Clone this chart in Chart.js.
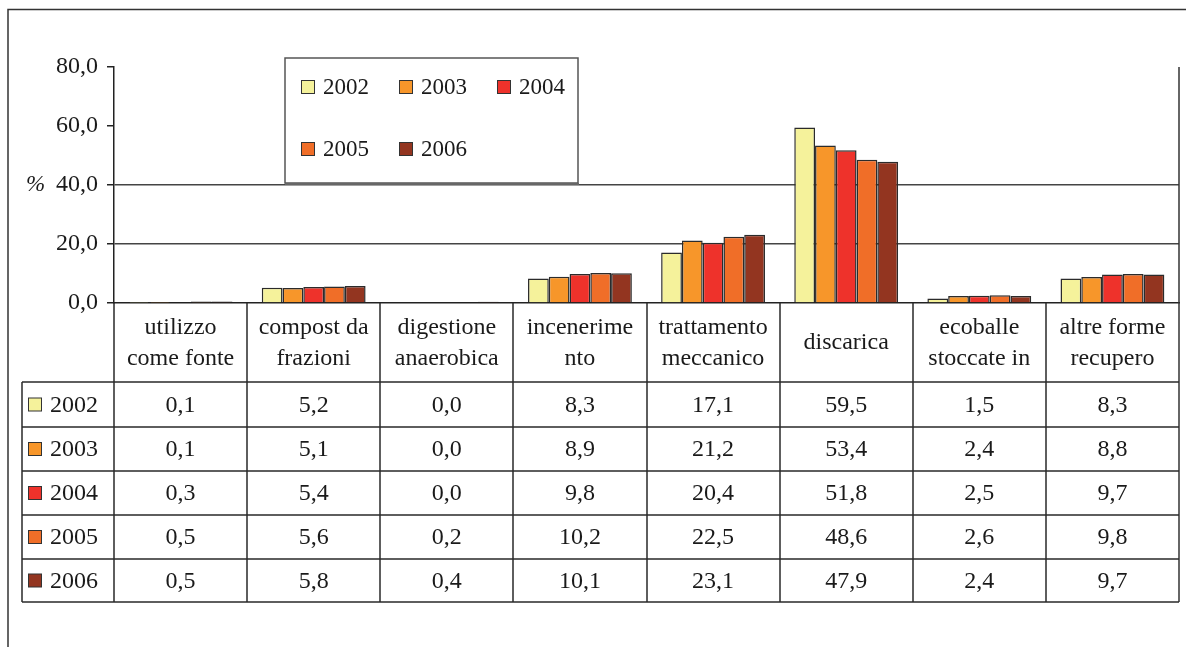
<!DOCTYPE html>
<html lang="it">
<head>
<meta charset="UTF-8">
<title>Gestione rifiuti</title>
<script src="https://cdn.jsdelivr.net/npm/chart.js"></script>
<style>
  html, body { margin: 0; padding: 0; background: #fff; }
  #wrap { width: 1186px; height: 647px; position: relative; }
</style>
</head>
<body>
<div id="wrap"><canvas id="grafico"></canvas></div>
<script>
  // dati
  const categorie = [
    ['utilizzo', 'come fonte'],
    ['compost da', 'frazioni'],
    ['digestione', 'anaerobica'],
    ['incenerime', 'nto'],
    ['trattamento', 'meccanico'],
    ['discarica'],
    ['ecoballe', 'stoccate in'],
    ['altre forme', 'recupero']
  ];
  const anni = ['2002', '2003', '2004', '2005', '2006'];
  const val2002 = [0.1, 5.2, 0.0, 8.3, 17.1, 59.5, 1.5, 8.3];
  const val2003 = [0.1, 5.1, 0.0, 8.9, 21.2, 53.4, 2.4, 8.8];
  const val2004 = [0.3, 5.4, 0.0, 9.8, 20.4, 51.8, 2.5, 9.7];
  const val2005 = [0.5, 5.6, 0.2, 10.2, 22.5, 48.6, 2.6, 9.8];
  const val2006 = [0.5, 5.8, 0.4, 10.1, 23.1, 47.9, 2.4, 9.7];
  const yTicks = [0, 20, 40, 60, 80];
  const colori = ['#F5F29B', '#F7962A', '#EE322B', '#F06E28', '#933520'];

  const serie = [val2002, val2003, val2004, val2005, val2006];
  const FONT = '"Liberation Serif", "DejaVu Serif", serif';
  const TXT = '#1a1a1a';

  function virgola(v) {
    return v.toFixed(1).replace('.', ',');
  }

  // tabella, legenda, cornice
  const extra = {
    id: 'extra',
    afterDraw(chart) {
      const ctx = chart.ctx;
      const area = chart.chartArea;
      const xs = chart.scales.x;
      const n = categorie.length;
      const cw = (area.right - area.left) / n;
      const righe = [303, 382, 427, 471, 515, 559, 602];
      const tabLeft = 22;

      ctx.save();
      // cornice esterna
      ctx.strokeStyle = '#333';
      ctx.lineWidth = 1.5;
      ctx.beginPath();
      ctx.moveTo(8, 647);
      ctx.lineTo(8, 9.5);
      ctx.lineTo(1186, 9.5);
      ctx.stroke();

      // bordo destro area grafico
      ctx.beginPath();
      ctx.moveTo(area.right, area.top);
      ctx.lineTo(area.right, righe[righe.length - 1]);
      ctx.stroke();

      // linee tabella
      ctx.strokeStyle = '#2a2a2a';
      ctx.beginPath();
      for (let r = 1; r < righe.length; r++) {
        ctx.moveTo(tabLeft, righe[r]);
        ctx.lineTo(area.right, righe[r]);
      }
      ctx.moveTo(tabLeft, righe[1]);
      ctx.lineTo(tabLeft, righe[righe.length - 1]);
      for (let i = 0; i < n; i++) {
        const x = Math.round(xs.getPixelForValue(i) - cw / 2);
        ctx.moveTo(x, righe[0]);
        ctx.lineTo(x, righe[righe.length - 1]);
      }
      ctx.stroke();

      ctx.fillStyle = TXT;
      ctx.textAlign = 'center';
      ctx.textBaseline = 'middle';
      ctx.font = '24px ' + FONT;

      // intestazioni categorie
      const hMid = (righe[0] + righe[1]) / 2;
      categorie.forEach((lab, i) => {
        const cx = xs.getPixelForValue(i);
        if (lab.length === 1) {
          ctx.fillText(lab[0], cx, hMid);
        } else {
          ctx.fillText(lab[0], cx, hMid - 15);
          ctx.fillText(lab[1], cx, hMid + 16);
        }
      });

      // righe dei valori
      serie.forEach((vals, s) => {
        const cy = (righe[s + 1] + righe[s + 2]) / 2;
        ctx.fillStyle = colori[s];
        ctx.fillRect(28.5, cy - 6.5, 13, 13);
        ctx.strokeStyle = '#333';
        ctx.lineWidth = 1;
        ctx.strokeRect(28.5, cy - 6.5, 13, 13);
        ctx.fillStyle = TXT;
        ctx.textAlign = 'left';
        ctx.fillText(anni[s], 50, cy + 1);
        ctx.textAlign = 'center';
        vals.forEach((v, i) => {
          ctx.fillText(virgola(v), xs.getPixelForValue(i), cy + 1);
        });
      });

      // simbolo %
      ctx.textAlign = 'left';
      ctx.font = 'italic 23px ' + FONT;
      ctx.fillText('%', 26, chart.scales.y.getPixelForValue(40));

      // legenda
      ctx.fillStyle = '#fff';
      ctx.fillRect(285, 58, 293, 125);
      ctx.strokeStyle = '#555';
      ctx.lineWidth = 1.5;
      ctx.strokeRect(285, 58, 293, 125);
      ctx.strokeStyle = '#666';
      ctx.lineWidth = 2;
      ctx.beginPath();
      ctx.moveTo(285, 184);
      ctx.lineTo(579, 184);
      ctx.stroke();
      ctx.font = '23px ' + FONT;
      const pos = [[301, 87], [399, 87], [497, 87], [301, 149], [399, 149]];
      anni.forEach((a, s) => {
        const [lx, ly] = pos[s];
        ctx.fillStyle = colori[s];
        ctx.fillRect(lx + 0.5, ly - 6.5, 13, 13);
        ctx.strokeStyle = '#333';
        ctx.lineWidth = 1;
        ctx.strokeRect(lx + 0.5, ly - 6.5, 13, 13);
        ctx.fillStyle = TXT;
        ctx.fillText(a, lx + 22, ly + 1);
      });
      ctx.restore();
    }
  };

  const ctx = document.getElementById('grafico').getContext('2d');

  new Chart(ctx, {
    type: 'bar',
    data: {
      labels: categorie,
      datasets: serie.map((vals, s) => ({
        label: anni[s],
        data: vals,
        backgroundColor: colori[s],
        borderColor: '#2b2b2b',
        borderWidth: 1.5,
        borderSkipped: 'bottom',
        categoryPercentage: 0.78,
        barPercentage: 1
      }))
    },
    options: {
      responsive: true,
      maintainAspectRatio: false,
      animation: false,
      layout: { padding: { top: 67, right: 7, left: 0, bottom: 0 } },
      plugins: {
        legend: { display: false },
        tooltip: { enabled: false }
      },
      scales: {
        x: {
          ticks: { display: false },
          grid: { display: false },
          border: { display: true, color: '#222', width: 1.5 },
          afterFit(scale) { scale.height = 647 - 303; }
        },
        y: {
          min: 0,
          max: 80,
          afterBuildTicks(scale) {
            scale.ticks = yTicks.map(v => ({ value: v }));
          },
          ticks: {
            padding: 9,
            color: TXT,
            font: { family: FONT, size: 24 },
            callback: v => virgola(v)
          },
          grid: {
            tickLength: 7,
            tickColor: '#222',
            tickWidth: 1.5,
            lineWidth: 1.5,
            color: c => (c.tick && (c.tick.value === 20 || c.tick.value === 40)) ? '#444' : 'rgba(0,0,0,0)'
          },
          border: { display: true, color: '#222', width: 1.5 },
          afterFit(scale) { scale.width = 114; }
        }
      }
    },
    plugins: [extra]
  });
</script>
</body>
</html>
